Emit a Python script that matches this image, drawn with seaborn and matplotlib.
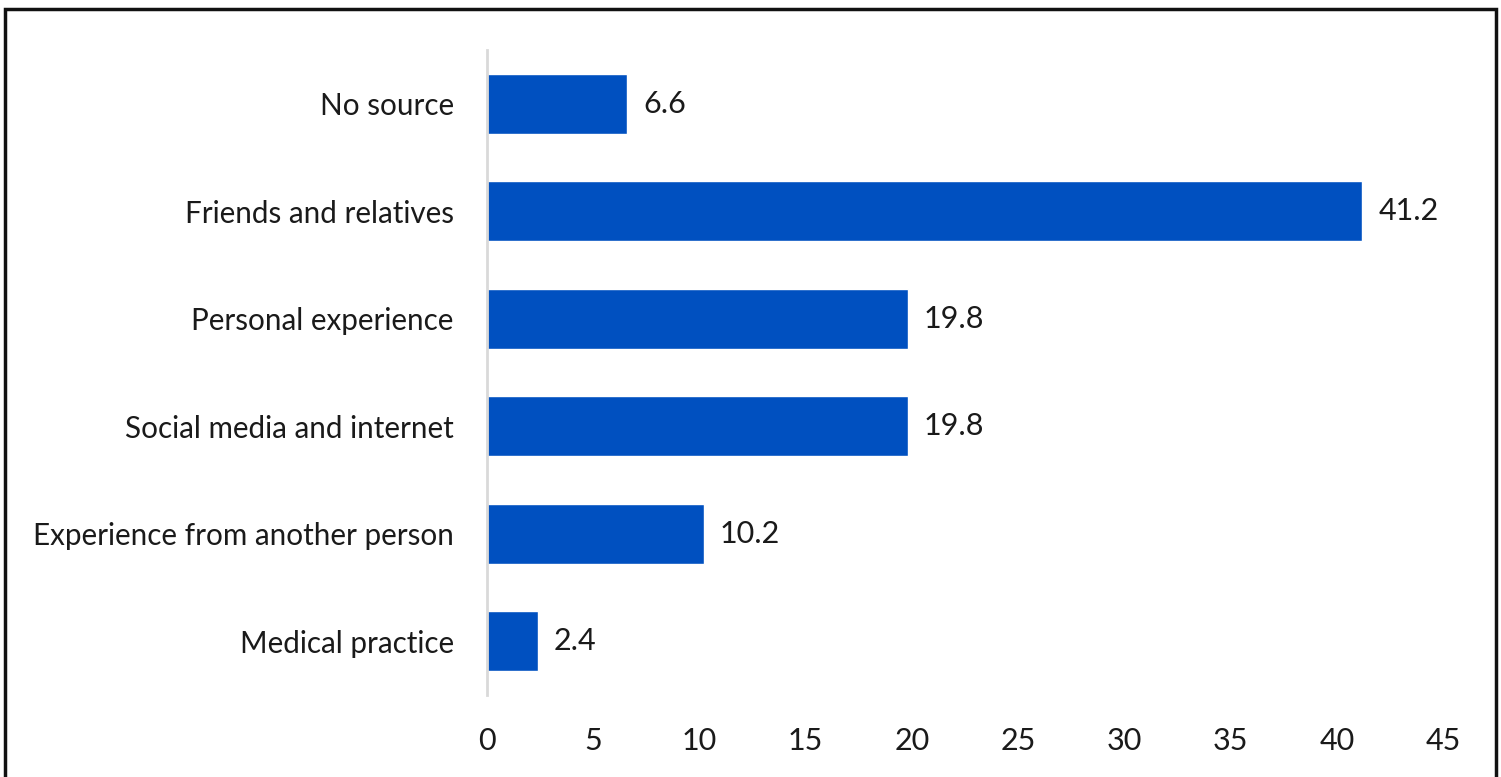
import pandas as pd
import numpy as np
import matplotlib
matplotlib.use('Agg')
import matplotlib.pyplot as plt
import seaborn as sns
from matplotlib.patches import Rectangle

sources = ['No source', 'Friends and relatives', 'Personal experience',
           'Social media and internet', 'Experience from another person', 'Medical practice']
percent = [6.6, 41.2, 19.8, 19.8, 10.2, 2.4]
xticks = [0, 5, 10, 15, 20, 25, 30, 35, 40, 45]

df = pd.DataFrame({'source': sources, 'percent': percent})

sns.set_theme(style='white')
plt.rcParams['font.family'] = ['Lato', 'DejaVu Sans']

fig = plt.figure(figsize=(15.01, 7.77), dpi=100)
ax = fig.add_axes([0.3245, 0.1055, 0.6369, 0.8301])

sns.barplot(data=df, x='percent', y='source', color='#0050C0', saturation=1,
            width=0.56, orient='h', ax=ax)

#Value labels at bar ends
for i, v in enumerate(percent):
    ax.text(v + 0.75, i, f'{v:.1f}', va='center', ha='left', fontsize=22, color='#1a1a1a')

ax.set_xlim(0, 45)
ax.set_ylim(5.5, -0.5)
ax.set_xticks(xticks)
ax.set_xticklabels([str(t) for t in xticks])
ax.set_xlabel('')
ax.set_ylabel('')
ax.tick_params(axis='both', length=0, labelcolor='#1a1a1a')
ax.tick_params(axis='x', pad=23, labelsize=22)
ax.tick_params(axis='y', pad=24, labelsize=21.3)

for s in ['top', 'right', 'bottom']:
    ax.spines[s].set_visible(False)
ax.spines['left'].set_color('#d9d9d9')
ax.spines['left'].set_linewidth(2)

#Black frame round the figure
fig.patches.append(Rectangle((0.0035, -0.05), 0.993, 1.038, transform=fig.transFigure,
                             fill=False, edgecolor='#111111', linewidth=2.5))

fig.savefig('out.png', dpi=100)
